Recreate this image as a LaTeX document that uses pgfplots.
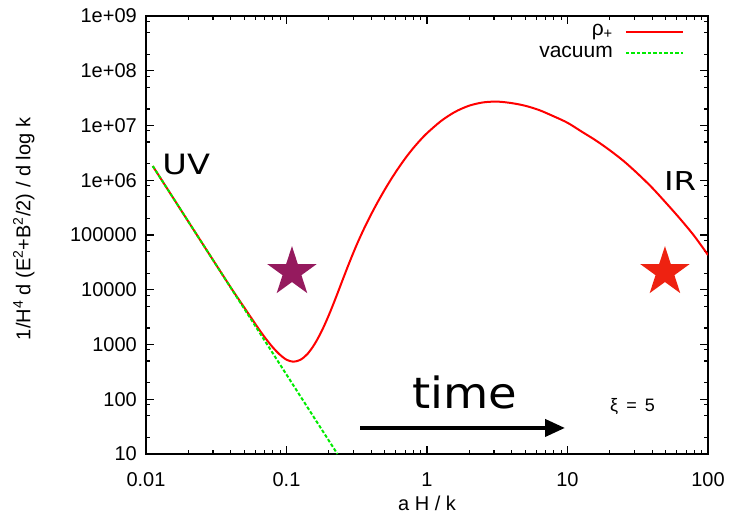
\documentclass[border=0pt]{standalone}
\usepackage{pgfplots}
\pgfplotsset{compat=1.18}
\usepackage{graphicx}
\usepackage{fontspec}
\setmainfont{Liberation Sans}
\newfontfamily\dvfont{DejaVu Sans}
\usetikzlibrary{arrows.meta}
\definecolor{gpred}{RGB}{255,0,0}
\definecolor{gpgreen}{RGB}{0,235,0}
\definecolor{starpurple}{RGB}{149,26,94}
\definecolor{starred}{RGB}{238,34,17}

\pgfdeclareplotmark{fstar}{%
  \pgfpathmoveto{\pgfpointpolar{90}{\pgfplotmarksize}}%
  \pgfpathlineto{\pgfpointpolar{126}{0.382\pgfplotmarksize}}%
  \pgfpathlineto{\pgfpointpolar{162}{\pgfplotmarksize}}%
  \pgfpathlineto{\pgfpointpolar{198}{0.382\pgfplotmarksize}}%
  \pgfpathlineto{\pgfpointpolar{234}{\pgfplotmarksize}}%
  \pgfpathlineto{\pgfpointpolar{270}{0.382\pgfplotmarksize}}%
  \pgfpathlineto{\pgfpointpolar{306}{\pgfplotmarksize}}%
  \pgfpathlineto{\pgfpointpolar{342}{0.382\pgfplotmarksize}}%
  \pgfpathlineto{\pgfpointpolar{18}{\pgfplotmarksize}}%
  \pgfpathlineto{\pgfpointpolar{54}{0.382\pgfplotmarksize}}%
  \pgfpathclose
  \pgfusepathqfill}

\pgfplotstableread{
x y
0.01117 1.816e6
0.01585 4.477e5
0.02512 7.096e4
0.03981 1.135e4
0.05012 4710
0.06310 1963
0.07079 1305
0.07943 903
0.08913 662
0.1000 528
0.1119 485
0.1259 527
0.1413 675
0.1585 1016
0.1778 1745
0.1995 3363
0.2239 7047
0.2512 1.524e4
0.2818 3.258e4
0.3162 6.653e4
0.3548 1.275e5
0.3981 2.314e5
0.4467 4.033e5
0.5012 6.77e5
0.5623 1.098e6
0.6310 1.72e6
0.7079 2.604e6
0.7943 3.797e6
0.8913 5.333e6
1.0 7.234e6
1.2589 1.2075e7
1.5849 1.776e7
1.9953 2.301e7
2.5119 2.642e7
3.1623 2.73e7
3.981 2.57e7
5.012 2.29e7
6.310 1.905e7
7.943 1.479e7
10.0 1.122e7
12.59 7.76e6
15.85 5.37e6
19.95 3.55e6
25.12 2.24e6
31.62 1.318e6
39.81 7.41e5
50.12 3.89e5
63.10 1.995e5
79.43 9.77e4
100 4.315e4
}\rhoplus

\pgfplotstableread{
x y
0.01117 1.816e6
0.02 1.764e5
0.05 4517
0.1 282.3
0.2305 10
}\vacuum

\begin{document}
\begin{tikzpicture}
\begin{axis}[
  at={(0,0)}, anchor=south west,
  scale only axis, width=562pt, height=438pt,
  xmode=log, ymode=log,
  xmin=0.01, xmax=100, ymin=10, ymax=1e9,
  xtick={0.01,0.1,1,10,100},
  xticklabels={0.01,0.1,1,10,100},
  minor xtick={0.02,0.03,0.04,0.05,0.06,0.07,0.08,0.09,0.2,0.3,0.4,0.5,0.6,0.7,0.8,0.9,2,3,4,5,6,7,8,9,20,30,40,50,60,70,80,90},
  ytick={10,100,1000,10000,100000,1e6,1e7,1e8,1e9},
  yticklabels={10,100,1000,10000,100000,1e+06,1e+07,1e+08,1e+09},
  minor ytick={20,50,80,200,500,800,2000,5000,8000,2e4,5e4,8e4,2e5,5e5,8e5,2e6,5e6,8e6,2e7,5e7,8e7,2e8,5e8,8e8},
  tick align=inside,
  major tick length=8pt, minor tick length=4pt,
  axis line style={line width=1.5pt},
  tick style={line width=1.1pt, black},
  xticklabel style={font=\fontsize{20}{24}\selectfont, anchor=base, yshift=-32pt},
  yticklabel style={font=\fontsize{20}{24}\selectfont, anchor=east, inner sep=0pt, xshift=-9pt},
  every axis x label/.style={at={(axis description cs:0.5,-0.1301)}, anchor=base},
  every axis y label/.style={at={(axis description cs:-0.2055,0.5137)}, rotate=90, anchor=base},
  label style={font=\fontsize{20}{24}\selectfont},
  xlabel={a H / k},
  ylabel={1/H\textsuperscript{4} d (E\textsuperscript{2}+B\textsuperscript{2}/2) / d log k},
]
\addplot[gpred, line width=2pt, smooth, tension=0.5] table[x=x,y=y] {\rhoplus};
\addplot[gpgreen, line width=2pt, dash pattern=on 3.5pt off 2pt] table[x=x,y=y] {\vacuum};
\addplot[only marks, mark=fstar, mark size=26pt, color=starpurple] coordinates {(0.1094,21000)};
\addplot[only marks, mark=fstar, mark size=26pt, color=starred] coordinates {(49.4,21000)};

% legend
\node[anchor=base east, inner sep=0pt, font=\fontsize{21}{25}\selectfont] at (axis description cs:0.831,0.9555) {ρ\textsubscript{+}};
\draw[gpred, line width=2pt] (axis description cs:0.8541,0.9635) -- (axis description cs:0.9555,0.9635);
\node[anchor=base east, inner sep=0pt, font=\fontsize{21}{25}\selectfont] at (axis description cs:0.831,0.9048) {vacuum};
\draw[gpgreen, line width=2pt, dash pattern=on 3.5pt off 2pt] (axis description cs:0.8541,0.9162) -- (axis description cs:0.9555,0.9162);

\node[anchor=base west, inner sep=0pt, font=\dvfont\fontsize{28}{32}\selectfont] at (axis description cs:0.029,0.637) {\scalebox{1.2}[1]{UV}};
\node[anchor=base east, inner sep=0pt, font=\dvfont\fontsize{26}{30}\selectfont] at (axis description cs:0.9795,0.6005) {\scalebox{1.25}[1]{IR}};
\node[anchor=base, inner sep=0pt, font=\dvfont\fontsize{43}{48}\selectfont] at (axis description cs:0.5676,0.105) {\scalebox{1.08}[1]{time}};
\node[anchor=base, inner sep=0pt, font=\fontsize{18}{21}\selectfont] at (axis description cs:0.8657,0.0966) {ξ\hspace{0.45em}=\hspace{0.45em}5};
\draw[line width=4pt, -{Triangle[length=20pt,width=17pt]}] (axis cs:0.3336,29.9) -- (axis cs:9.6,29.9);
\end{axis}
\pgfresetboundingbox
\useasboundingbox (-146pt,-66pt) rectangle (585pt,454pt);
\end{tikzpicture}
\end{document}
